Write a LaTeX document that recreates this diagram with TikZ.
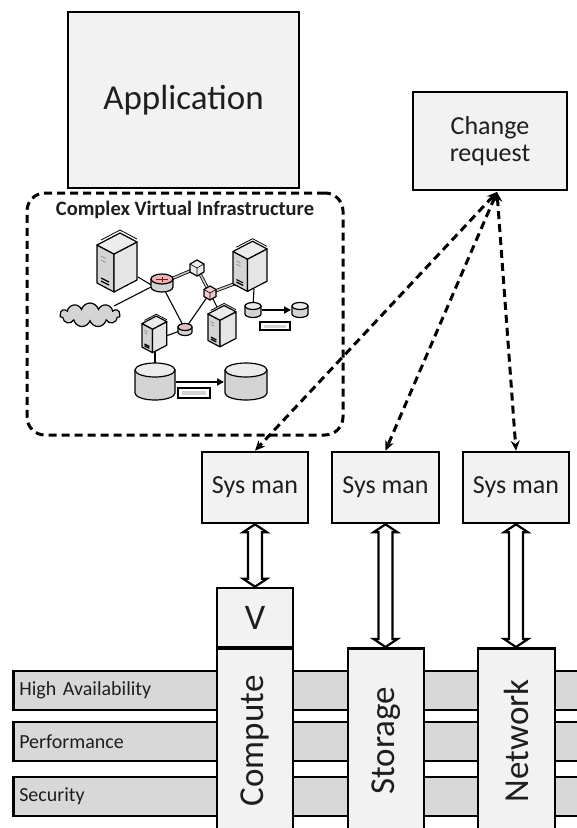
\documentclass[tikz,border=0pt]{standalone}
\usepackage{fontspec}
\setmainfont{Carlito}
\usetikzlibrary{arrows.meta,shapes.symbols,calc}

\definecolor{boxfill}{HTML}{F2F2F2}
\definecolor{barfill}{HTML}{D8D8D8}
\definecolor{ink}{HTML}{1E1E1E}
\definecolor{iconfill}{HTML}{D4D4D4}
\definecolor{iconlight}{HTML}{ECECEC}
\definecolor{rtrpink}{HTML}{E8B4B8}

% tower server icon, #1,#2 = top-left corner, #3 = scale
\newcommand\srvicon[3]{%
  \begin{scope}[shift={(#1,#2)}, scale=#3]
    \draw[icon, fill=iconfill] (0,17) -- (17,26) -- (17,64) -- (0,55) -- cycle;
    \draw[icon, fill=iconlight!70!iconfill] (17,26) -- (40,14) -- (40,52) -- (17,64) -- cycle;
    \draw[icon, fill=iconlight] (0,17) -- (23,5) -- (40,14) -- (17,26) -- cycle;
    \draw[line width=0.8pt] (4,12) -- (23,2) -- (40,11);
    \draw[line width=0.6pt, gray] (4,28) -- (9,30.5) (4,32) -- (9,34.5);
    \draw[line width=1.2pt] (4,50) -- (12,54) (4,53) -- (12,57);
  \end{scope}}

% cylinder icon: #1 cx, #2 y of top ellipse, #3 rx, #4 ry, #5 body height, #6 top fill
\newcommand\cylicon[6]{%
  \draw[icon, fill=iconfill] (#1-#3,#2) -- (#1-#3,#2+#5)
     arc[start angle=180, end angle=0, x radius=#3, y radius=#4] -- (#1+#3,#2) -- cycle;
  \draw[icon, fill=#6] (#1,#2) ellipse[x radius=#3, y radius=#4];}

% small hexagonal switch icon: #1 cx, #2 cy, #3 radius, #4 fill
\newcommand\hexicon[4]{%
  \draw[icon, fill=#4] (#1,#2-#3) -- (#1+0.87*#3,#2-0.5*#3) -- (#1+0.87*#3,#2+0.5*#3)
     -- (#1,#2+#3) -- (#1-0.87*#3,#2+0.5*#3) -- (#1-0.87*#3,#2-0.5*#3) -- cycle;
  \draw[line width=0.6pt] (#1-0.87*#3,#2-0.5*#3) -- (#1,#2) -- (#1+0.87*#3,#2-0.5*#3) (#1,#2) -- (#1,#2+#3);}

\begin{document}
\begin{tikzpicture}[x=1pt, y=-1pt,
  box/.style={draw=black, line width=2.6pt, fill=boxfill, text=ink, align=center, inner sep=0pt},
  bar/.style={draw=black, line width=2.6pt, fill=barfill, text=ink, inner xsep=6pt, inner ysep=0pt,
              anchor=west, align=left, text width=560pt, minimum height=39pt,
              font=\fontsize{20}{22}\selectfont},
  vlabel/.style={rotate=90, text=ink, font=\fontsize{35}{38}\selectfont},
  link/.style={draw=black, line width=3pt, dash pattern=on 8pt off 5pt,
               {Stealth[length=10pt,width=9pt]}-{Stealth[length=10pt,width=9pt]}},
  dblarrow/.style={draw=black, line width=2.2pt, fill=white, line join=miter,
     to path={let \p1=(\tikztostart), \p2=(\tikztotarget) in
       (\x1,\y1) -- (\x1+12pt,\y1-8pt) -- (\x1+7pt,\y1-8pt) -- (\x1+7pt,\y2+8pt)
       -- (\x1+12pt,\y2+8pt) -- (\x1,\y2) -- (\x1-12pt,\y2+8pt) -- (\x1-7pt,\y2+8pt)
       -- (\x1-7pt,\y1-8pt) -- (\x1-12pt,\y1-8pt) -- cycle}},
  icon/.style={draw=black, line width=1.2pt, line join=round},
  wire/.style={draw=black, line width=1.1pt},
  trunk/.style={draw=black, line width=0.8pt, double=gray!45, double distance=1.6pt},
  copyarrow/.style={draw=black, line width=1.8pt, -{Triangle[length=7pt,width=7pt]}},
  tag/.style={draw=black, line width=1.4pt, fill=white, inner sep=0pt}
]
\useasboundingbox (0,0) rectangle (577,828);

% ---- service bars (behind the resource columns)
\node[bar] (ha)   at (12,690.5) {High Availability};
\node[bar] (perf) at (12,741.5) {Performance};
\node[bar] (sec)  at (12,796.5) {Security};

% ---- resource columns
\node[box, minimum width=76pt, minimum height=59pt, font=\fontsize{36}{38}\selectfont] (vbox) at (255,617.5) {V};
\node[box, minimum width=76pt, minimum height=185pt, anchor=north] (compute) at (255,647) {};
\node[box, minimum width=76pt, minimum height=185pt, anchor=north] (storage) at (386,647) {};
\node[box, minimum width=77pt, minimum height=185pt, anchor=north] (network) at (516.5,647) {};
\node[vlabel] (computelbl) at (compute.center) {Compute};
\node[vlabel] (storagelbl) at (storage.center) {Storage};
\node[vlabel] (networklbl) at (network.center) {Network};

% ---- top boxes
\node[box, minimum width=231pt, minimum height=176pt, font=\fontsize{35}{38}\selectfont] (app) at (183.5,100) {Application};
\node[box, minimum width=154pt, minimum height=98pt, font=\fontsize{26}{27}\selectfont] (change) at (490,141) {Change\\request};

% ---- system managers
\node[box, minimum width=106pt, minimum height=71pt, font=\fontsize{26}{28}\selectfont] (sys1) at (255,487.5) {Sys man};
\node[box, minimum width=107pt, minimum height=71pt, font=\fontsize{26}{28}\selectfont] (sys2) at (385.5,487.5) {Sys man};
\node[box, minimum width=106pt, minimum height=71pt, font=\fontsize{26}{28}\selectfont] (sys3) at (516,487.5) {Sys man};

% ---- management channels
\draw[dblarrow] (sys1.south) to (vbox.north);
\draw[dblarrow] (sys2.south) to (storage.north);
\draw[dblarrow] (sys3.south) to (network.north);

% ---- virtual infrastructure frame
\node[draw=black, line width=3pt, dash pattern=on 8pt off 5pt, rounded corners=18pt,
      minimum width=316pt, minimum height=242pt, fill=white] (infra) at (185,314) {};
\node[text=ink, font=\bfseries\fontsize{20.5}{22}\selectfont] (infratitle) at (185,210) {Complex Virtual Infrastructure};

% links between the infrastructure elements
\coordinate (srvAport) at (138,277);
\coordinate (rtrL) at (153,286);
\coordinate (rtrR) at (171,279);
\coordinate (rtrB) at (165,291);
\coordinate (cloudport) at (114,306);
\coordinate (hexN) at (197,268);
\coordinate (swN) at (210,293);
\coordinate (srvBport) at (242,281);
\coordinate (smallrtr) at (185,329);
\coordinate (srvCport) at (166,336);
\coordinate (srvCbot) at (155,350);
\coordinate (dbAtop) at (155,368);
\coordinate (srvBbot) at (254,289);
\coordinate (dbstop) at (253,306);
\coordinate (srvDtop) at (217,307);
\draw[wire] (srvAport) -- (rtrL);
\draw[wire] (rtrL) -- (cloudport);
\draw[trunk] (rtrR) -- (hexN);
\draw[trunk] (hexN) -- (swN);
\draw[trunk] (swN) -- (srvBport);
\draw[wire] (swN) -- (smallrtr);
\draw[wire] (rtrB) -- (smallrtr);
\draw[wire] (smallrtr) -- (srvCport);
\draw[wire] (srvCbot) -- (dbAtop);
\draw[wire] (srvBbot) -- (dbstop);
\draw[wire] (swN) -- (srvDtop);

% icons
\node[cloud, cloud puffs=11, aspect=2.6, draw=black, line width=1.2pt, fill=iconfill,
      minimum width=60pt, minimum height=24pt, inner sep=0pt] (cloudicon) at (90,315) {};
\srvicon{97}{228}{1}
\srvicon{233}{237}{0.85}
\srvicon{208}{302}{0.7}
\srvicon{142}{313}{0.62}
\cylicon{162}{279}{11}{5}{8}{rtrpink}
\draw[red!70!black, line width=0.6pt] (156,279) -- (168,279) (162,276.5) -- (162,281.5);
\hexicon{197}{268}{8}{iconlight}
\hexicon{210}{293}{7}{rtrpink!70!white}
\cylicon{185}{327}{7}{3.5}{5}{rtrpink!60!iconfill}

% replicated volumes
\cylicon{253}{306}{8}{3.5}{8}{iconlight}
\cylicon{300}{306}{8}{3.5}{8}{iconlight}
\coordinate (dbsR) at (262,310);
\coordinate (dbsT) at (291,310);
\draw[copyarrow] (dbsR) -- (dbsT);
\node[tag, minimum width=30pt, minimum height=8pt] (tagS) at (275,326) {};
\fill[iconfill] (tagS.center) ++(-11,-1.5) rectangle ++(22,3);

\cylicon{155}{370}{20}{7}{23}{iconlight}
\cylicon{246}{370}{21}{7}{23}{iconlight}
\coordinate (dbAR) at (176,382);
\coordinate (dbBL) at (224,382);
\draw[copyarrow] (dbAR) -- (dbBL);
\node[tag, minimum width=32pt, minimum height=10pt] (tagL) at (194,393) {};
\fill[iconfill] (tagL.center) ++(-12,-2) rectangle ++(24,4);

% ---- change request distribution
\coordinate (crtip) at (497,192);
\draw[link] (crtip) -- (sys1.north);
\draw[link] (crtip) -- (sys2.north);
\draw[link] (crtip) -- (sys3.north);
\end{tikzpicture}
\end{document}
